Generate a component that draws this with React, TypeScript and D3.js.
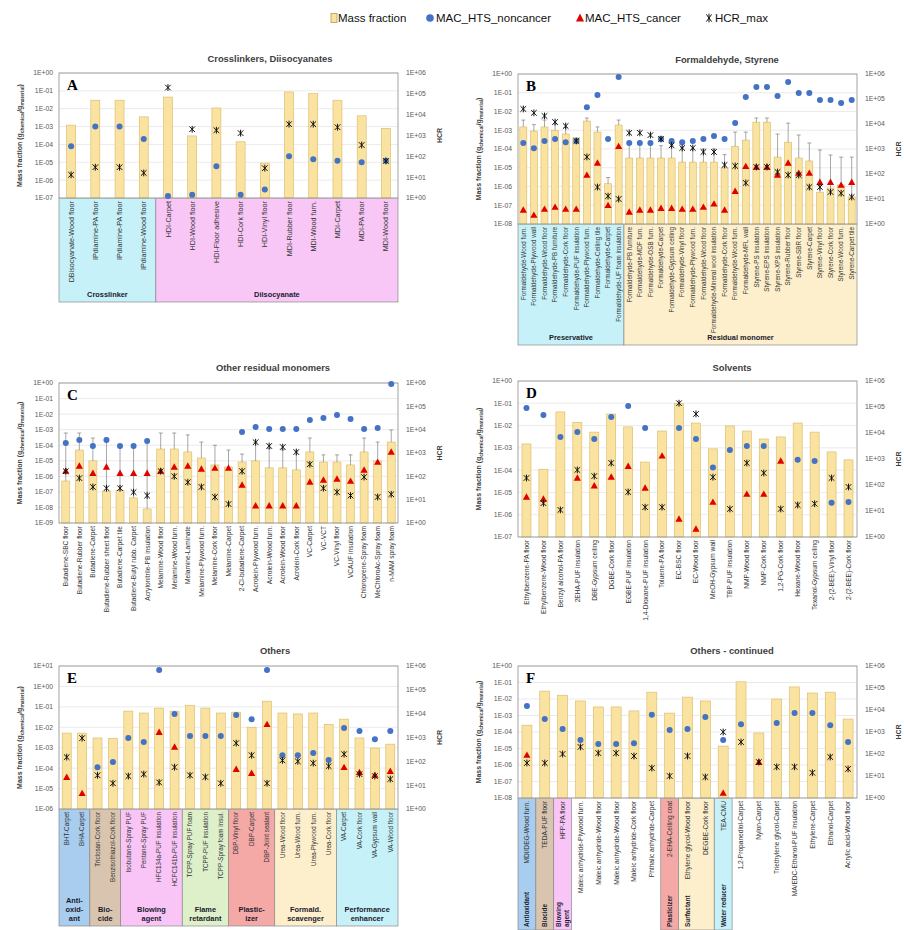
import React from "react";
import * as d3 from "d3";

const LEGEND = ["Mass fraction", "MAC_HTS_noncancer", "MAC_HTS_cancer", "HCR_max"];
const RIGHT_TICKS = ["1E+00", "1E+01", "1E+02", "1E+03", "1E+04", "1E+05", "1E+06"];

// ---------- Panel A ----------
const A_title = "Crosslinkers, Diisocyanates";
const A_labels = ["DBisocyanate-Wood floor", "IPdiamine-PA floor", "IPdiamine-PA floor", "IPdiamine-Wood floor", "HDI-Carpet", "HDI-Wood floor", "HDI-Floor adhesive", "HDI-Cork floor", "HDI-Vinyl floor", "MDI-Rubber floor", "MDI-Wood furn.", "MDI-Carpet", "MDI-PA floor", "MDI-Wood floor"];
const A_mass = [1.2e-3, 3e-2, 3e-2, 3.5e-3, 4.5e-2, 3e-4, 1.1e-2, 1.4e-4, 9e-6, 8.7e-2, 7e-2, 3e-2, 4e-3, 8e-4];
const A_err = [null, null, null, null, null, null, null, null, null, null, null, null, null, null];
const A_nonc = [8e-5, 1e-3, 1e-3, 2e-4, 1.3e-7, 1.5e-7, 6e-6, 1.5e-7, 3e-7, 2.2e-5, 1.5e-5, 1.2e-5, 1e-5, 1.2e-5];
const A_canc = [null, null, null, null, null, null, null, null, null, null, null, null, null, null];
const A_hcr = [13, 30, 30, 16, 2e5, 2000, 1800, 1300, 27, 3500, 3500, 2500, 350, 60];
const A_leftTicks = ["1E+00", "1E-01", "1E-02", "1E-03", "1E-04", "1E-05", "1E-06", "1E-07"];
const A_groups = [{ name: ["Crosslinker"], n: 4, kind: "cyan" }, { name: ["Diisocyanate"], n: 10, kind: "magenta" }];

// ---------- Panel B ----------
const B_title = "Formaldehyde, Styrene";
const B_labels = ["Formaldehyde-Wood furn.", "Formaldehyde-Plywood wall", "Formaldehyde-Wood floor", "Formaldehyde-PB furniture", "Formaldehyde-Cork floor", "Formaldehyde-PUF insulation", "Formaldehyde-Plywood furn.", "Formaldehyde-Ceiling tile", "Formaldehyde-Carpet", "Formaldehyde-UF foam insulation",
  "Formaldehyde-PB furniture", "Formaldehyde-MDF furn.", "Formaldehyde-OSB furn.", "Formaldehyde-Carpet", "Formaldehyde-Gypsum ceiling", "Formaldehyde-Vinyl floor", "Formaldehyde-Plywood furn.", "Formaldehyde-Wood floor", "Formaldehyde-Mineral wool insulation", "Formaldehyde-Cork floor", "Formaldehyde-Wood furn.", "Formaldehyde-MFL wall",
  "Styrene-PS insulation", "Styrene-EPS insulation", "Styrene-XPS insulation", "Styrene-Rubber floor", "Styrene-SBR floor", "Styrene-Carpet", "Styrene-Vinyl floor", "Styrene-Cork floor", "Styrene-Wood furn.", "Styrene-Carpet tile"];
const B_mass = [1.5e-3, 9e-4, 1.5e-3, 1e-3, 6.3e-4, 3.9e-4, 3.1e-3, 8e-4, 1.4e-6, 1.9e-3, 3.3e-5, 3.3e-5, 3.3e-5, 3.3e-5, 3.3e-5, 2e-5, 2e-5, 2e-5, 2e-5, 9.8e-6, 1.4e-4, 3e-4, 2.7e-3, 2.7e-3, 3.7e-5, 2.3e-4, 3.3e-5, 2.3e-5, 5e-7, 8.3e-7, 1.2e-6, 2.8e-7];
const B_err = [3.5e-3, 2e-3, 3.5e-3, 2.2e-3, 1.4e-3, null, 4.5e-3, 1.5e-3, 3e-6, 3.5e-3, 2e-4, 2e-4, 2e-4, 1.5e-4, 1.5e-4, 1.2e-4, 1e-4, 1e-4, 1e-4, 5e-5, 8e-4, 8e-4, 4.5e-3, 4.5e-3, 6.3e-4, 2.4e-3, 5.6e-4, 2.1e-4, 8.9e-5, 4.8e-5, 3.7e-5, 3.7e-5];
const B_nonc = [2.1e-4, 1.1e-4, 2.7e-4, 3.4e-4, 2.3e-4, 2.7e-4, 1.7e-2, 7.6e-2, 3.4e-4, 0.7, 2.1e-4, 2.1e-4, 2.1e-4, 3.4e-4, 2.7e-4, 2.3e-4, 2.7e-4, 3.4e-4, 4.9e-4, 3.4e-4, 2.4e-3, 5.9e-2, 0.2, 0.2, 6.7e-2, 0.37, 9.7e-2, 9.7e-2, 4.1e-2, 4.1e-2, 2.8e-2, 4.1e-2];
const B_canc = [5.6e-8, 3e-8, 6.3e-8, 8e-8, 6.3e-8, 6.3e-8, 4.1e-6, 1.8e-5, 1e-7, 1.4e-4, 4.4e-8, 5.6e-8, 5.6e-8, 7e-8, 7e-8, 6.3e-8, 6.3e-8, 8e-8, 1.2e-7, 5.6e-8, 5.7e-7, 1.2e-5, 1.1e-5, 1.1e-5, 4.1e-6, 1.8e-5, 5.2e-6, 5.2e-6, 1.7e-6, 1.7e-6, 1.2e-6, 1.7e-6];
const B_hcr = [4e4, 2.8e4, 2.1e4, 1.2e4, 8.3e3, 2.1e3, 480, 30, 13, 10, 4.4e3, 4.4e3, 3.6e3, 2.5e3, 1.4e3, 1.1e3, 1.1e3, 760, 760, 230, 210, 44, 190, 190, 120, 91, 91, 30, 30, 19, 17, 12];
const B_leftTicks = ["1E+00", "1E-01", "1E-02", "1E-03", "1E-04", "1E-05", "1E-06", "1E-07", "1E-08"];
const B_groups = [{ name: ["Preservative"], n: 10, kind: "cyan" }, { name: ["Residual monomer"], n: 22, kind: "peach" }];

// ---------- Panel C ----------
const C_title = "Other residual monomers";
const C_labels = ["Butadiene-SBC floor", "Butadiene-Rubber floor", "Butadiene-Carpet", "Butadiene-Rubber sheet floor", "Butadiene-Carpet tile", "Butadiene-Butyl rubb. Carpet", "Acrylonitrile-PB insulation", "Melamine-Wood floor", "Melamine-Wood furn.", "Melamine-Laminate", "Melamine-Plywood furn.", "Melamine-Cork floor", "Melamine-Carpet", "2-Cl-butadiene-Carpet", "Acrolein-Plywood furn.", "Acrolein-Wood furn.", "Acrolein-Wood floor", "Acrolein-Cork floor", "VC-Carpet", "VC-VCT", "VC-Vinyl floor", "VCAUF insulation", "Chloroprene-Spray foam", "MeChloroAc-Spray foam", "n-MAM spray foam"];
const C_mass = [5e-7, 4.9e-5, 9.8e-6, 1.1e-7, 1.3e-7, 4.1e-8, 8e-9, 5.7e-5, 5.7e-5, 3.7e-5, 1.5e-5, 5.4e-6, 4e-6, 8.3e-6, 9.8e-6, 3.5e-6, 3.5e-6, 2.6e-6, 3.7e-5, 8.3e-6, 8.3e-6, 5.4e-6, 3.7e-5, 9.8e-6, 1.6e-4];
const C_err = [6.1e-4, 6.1e-4, 2.9e-4, 2.9e-4, 1e-4, 8e-5, 2e-4, 6.1e-4, 6.1e-4, 4.6e-4, 1.6e-4, 1e-4, 4.9e-5, 2.7e-5, 1.5e-4, 6e-5, 5e-5, 4e-5, 2.9e-4, 2.4e-5, 2.4e-5, 2.4e-5, 2.9e-4, 1.6e-4, 9.5e-4];
const C_nonc = [1.4e-4, 2.2e-4, 8.9e-5, 2.2e-4, 8.9e-5, 8.9e-5, 1.9e-4, null, null, null, null, null, null, 7.1e-4, 1.5e-3, 1.1e-3, 1.1e-3, 1.1e-3, 4.2e-3, 5.6e-3, 8.8e-3, 4.9e-3, 1.1e-3, 1.3e-3, 0.87];
const C_canc = [2.2e-6, 4.7e-6, 1.6e-6, 4e-6, 1.6e-6, 1.6e-6, 1.6e-6, 2.2e-6, 4e-6, 4.7e-6, 3e-6, 3.4e-6, 3.4e-6, 2.8e-7, 1.3e-8, 1.3e-8, 1.3e-8, 1.3e-8, 4.4e-7, 5.9e-7, 6.9e-7, 5e-7, 2.6e-6, 8.3e-6, 3.7e-5];
const C_hcr = [166, 84, 35, 31, 31, 21, 15, 166, 100, 56, 35, 13, 6.5, 166, 2900, 2000, 1800, 1100, 330, 31, 21, 15, 93, 13, 17];
const C_leftTicks = ["1E+00", "1E-01", "1E-02", "1E-03", "1E-04", "1E-05", "1E-06", "1E-07", "1E-08", "1E-09"];
const C_groups = [];

// ---------- Panel D ----------
const D_title = "Solvents";
const D_labels = ["Ethylbenzene-PA floor", "Ethylbenzene-Wood floor", "Benzyl alcohol-PA floor", "2EHA-PUF insulation", "DBE-Gypsum ceiling", "DGBE-Cork floor", "EGBE-PUF insulation", "1,4-Dioxane-PUF insulation", "Toluene-PA floor", "EC-BSC floor", "EC-Wood floor", "MeOH-Gypsum wall", "TBP-PUF insulation", "NMP-Wood floor", "NMP-Cork floor", "1,2-PG-Cork floor", "Hexane-Wood floor", "Texanol-Gypsum ceiling", "2-(2-BEE)-Vinyl floor", "2-(2-BEE)-Cork floor"];
const D_mass = [1.5e-3, 1.1e-4, 4.1e-2, 1.4e-2, 5.1e-3, 3.3e-2, 8.7e-3, 2.3e-4, 5.7e-3, 0.1, 1.3e-2, 9e-4, 9.6e-3, 5.7e-3, 2.5e-3, 3.1e-3, 1.3e-2, 5.1e-3, 6.6e-4, 2.9e-4];
const D_err = [null, null, null, null, null, null, null, null, null, null, null, null, null, null, null, null, null, null, null, null];
const D_nonc = [6.2e-2, 3e-2, 3.1e-3, 5.1e-3, 2.5e-3, 2.4e-2, 7.6e-2, 7.8e-3, null, 7.8e-3, 2.5e-3, 1.3e-4, 8.1e-4, 1.2e-3, 1.2e-3, null, 2.9e-4, 2.6e-4, 3.4e-6, 3.7e-6];
const D_canc = [6.3e-6, 5.1e-6, null, 4.5e-5, 2e-5, 5e-5, 1.5e-4, 1.6e-5, 4.4e-4, 6.5e-7, 2.3e-7, 3.7e-6, null, 8.5e-6, 8.5e-6, 2.6e-4, null, null, null, null];
const D_hcr = [186, 20, 11, 380, 220, 700, 54, 14, 14, 1.4e5, 5.4e4, 200, 12, 700, 290, 12, 17, 19, 186, 84];
const D_leftTicks = ["1E+00", "1E-01", "1E-02", "1E-03", "1E-04", "1E-05", "1E-06", "1E-07"];
const D_groups = [];

// ---------- Panel E ----------
const E_title = "Others";
const E_labels = ["BHT-Carpet", "BHA-Carpet", "Triclosan-Cork floor", "Benzisothiazol-Cork floor", "Isobutane-Spray PUF", "Pentane-Spray PUF", "HFC134a-PUF insulation", "HCFC141b-PUF insulation", "TCPP-Spray PUF foam", "TCPP-PUF insulation", "TCPP-Spray foam insul.", "DBP-Vinyl floor", "DBP-Carpet", "DBP-Joint sealant", "Urea-Wood floor", "Urea-Wood furn.", "Urea-Plywood furn.", "Urea-Cork floor", "VA-Carpet", "VA-Cork floor", "VA-Gypsum wall", "VA-Wood floor"];
const E_mass = [5.2e-3, 5.2e-3, 3e-3, 2.9e-3, 6.2e-2, 5e-2, 8.7e-2, 6.2e-2, 0.12, 8.7e-2, 5e-2, 5.5e-2, 1e-2, 0.19, 5e-2, 4.5e-2, 5e-2, 1.4e-2, 2.5e-2, 3e-3, 9.6e-4, 1.5e-3];
const E_err = [null, null, null, null, null, null, null, null, null, null, null, null, null, null, null, null, null, null, null, null, null, null];
const E_nonc = [null, null, 1.1e-4, 2e-4, 3e-3, 1.9e-3, 6.4, 4.5e-2, 3.7e-3, 3.7e-3, 3.7e-3, 4e-2, 2.5e-2, 6.4, 4.3e-4, 4.3e-4, 5.5e-4, 2.5e-4, 9.1e-3, 6.5e-3, 2.6e-3, 6.5e-3];
const E_canc = [3.6e-5, 5.9e-6, null, null, null, null, 5.8e-3, 1.1e-3, null, null, null, 9e-5, 5.7e-5, 1.4e-2, null, null, null, null, 1.1e-4, 6.3e-5, 4.6e-5, 7.1e-5];
const E_hcr = [150, 940, 26, 12, 24, 29, 13, 57, 26, 22, 12, 580, 180, 12, 110, 100, 84, 63, 200, 29, 24, 18];
const E_leftTicks = ["1E+01", "1E+00", "1E-01", "1E-02", "1E-03", "1E-04", "1E-05", "1E-06"];
const E_groups = [
  { name: ["Anti-", "oxid-", "ant"], n: 2, kind: "blue" },
  { name: ["Bio-", "cide"], n: 2, kind: "tan" },
  { name: ["Blowing", "agent"], n: 4, kind: "pink" },
  { name: ["Flame", "retardant"], n: 3, kind: "green" },
  { name: ["Plastic-", "izer"], n: 3, kind: "red" },
  { name: ["Formald.", "scavenger"], n: 4, kind: "peach" },
  { name: ["Performance", "enhancer"], n: 4, kind: "cyan" },
];

// ---------- Panel F ----------
const F_title = "Others - continued";
const F_labels = ["MDI/DEG-Wood furn.", "TEDA-PUF floor", "HFP-PA floor", "Maleic anhydride-Plywood furn.", "Maleic anhydride-Wood floor", "Maleic anhydride-Wood floor", "Maleic anhydride-Cork floor", "Phthalic anhydride-Carpet", "2-EHA-Ceiling coat", "Ethylene glycol-Wood floor", "DEGBE-Cork floor", "TEA-CMU", "1,2-Propanediol-Carpet", "Nylon-Carpet", "Triethylene glycol-Carpet", "MA/EDC-Ethanol-PUF insulation", "Ethylene-Carpet", "Ethanol-Carpet", "Acrylic acid-Wood floor"];
const F_mass = [2.6e-4, 3e-2, 1.7e-2, 7.6e-3, 3.3e-3, 3.3e-3, 1.9e-3, 2.6e-2, 1.4e-3, 1.3e-2, 7.6e-3, 1.4e-5, 0.11, 8.7e-5, 1e-2, 5.4e-2, 2.3e-2, 2.6e-2, 6.1e-4];
const F_err = [null, null, null, null, null, null, null, null, null, null, null, null, null, null, null, null, null, null, null];
const F_nonc = [3.8e-3, 6.1e-4, 1.5e-4, 3.3e-5, 1.9e-5, 1.9e-5, 2.1e-5, 1.1e-3, 1.3e-4, 1.5e-4, 8.1e-4, 3.3e-5, 3e-4, null, 3.5e-4, 1.4e-3, 1.4e-3, 2.6e-4, 2.5e-5];
const F_canc = [4e-6, null, null, null, null, null, null, null, null, null, null, 2e-8, null, 1.5e-6, null, null, null, null, null];
const F_hcr = [39, 39, 100, 210, 110, 110, 81, 23, 10, 81, 9, 1000, 350, 43, 26, 26, 14, 73, 21];
const F_leftTicks = ["1E+00", "1E-01", "1E-02", "1E-03", "1E-04", "1E-05", "1E-06", "1E-07", "1E-08"];
const F_groups = [
  { name: ["Antioxidant"], n: 1, kind: "blue", rot: true },
  { name: ["Biocide"], n: 1, kind: "tan", rot: true },
  { name: ["Blowing", "agent"], n: 1, kind: "pink", rot: true },
  { name: [], n: 5, kind: null },
  { name: ["Plasticizer"], n: 1, kind: "red", rot: true },
  { name: ["Surfactant"], n: 2, kind: "peach", rot: true },
  { name: ["Water reducer"], n: 1, kind: "cyan", rot: true },
  { name: [], n: 7, kind: null },
];

// ---------- styles / layout ----------
const KIND_COLORS = {
  cyan: "#C6F1F8", magenta: "#F8C7F5", peach: "#FDEFCB", blue: "#A8CDEE", tan: "#D9C5AF",
  pink: "#F8C5F6", green: "#DDF0CA", red: "#F4A9A6",
};
const BAR_FILL = "#FAE3A1";
const BAR_STROKE = "#D8B862";
const BLUE = "#4472C4";
const RED = "#E00000";
const FONT = "'Liberation Sans', Arial, sans-serif";

const PANELS = [
  { d: { title: A_title, letter: "A", labels: A_labels, mass: A_mass, err: A_err, nonc: A_nonc, canc: A_canc, hcr: A_hcr, leftTicks: A_leftTicks, groups: A_groups },
    L: { x0: 59, x1: 398, y0: 73, y1: 198, labBottom: 302, titleX: 270, titleY: 62, barW: 9, lf: 7.2 } },
  { d: { title: B_title, letter: "B", labels: B_labels, mass: B_mass, err: B_err, nonc: B_nonc, canc: B_canc, hcr: B_hcr, leftTicks: B_leftTicks, groups: B_groups },
    L: { x0: 518, x1: 857, y0: 74, y1: 224, labBottom: 345, titleX: 727, titleY: 63, barW: 7, lf: 6.3 } },
  { d: { title: C_title, letter: "C", labels: C_labels, mass: C_mass, err: C_err, nonc: C_nonc, canc: C_canc, hcr: C_hcr, leftTicks: C_leftTicks, groups: C_groups },
    L: { x0: 59, x1: 398, y0: 383, y1: 523, labBottom: 610, titleX: 273, titleY: 371, barW: 8, lf: 6.6 } },
  { d: { title: D_title, letter: "D", labels: D_labels, mass: D_mass, err: D_err, nonc: D_nonc, canc: D_canc, hcr: D_hcr, leftTicks: D_leftTicks, groups: D_groups },
    L: { x0: 518, x1: 857, y0: 381, y1: 537, labBottom: 615, titleX: 732, titleY: 371, barW: 9, lf: 6.6 } },
  { d: { title: E_title, letter: "E", labels: E_labels, mass: E_mass, err: E_err, nonc: E_nonc, canc: E_canc, hcr: E_hcr, leftTicks: E_leftTicks, groups: E_groups },
    L: { x0: 59, x1: 398, y0: 666, y1: 809, labBottom: 926, titleX: 275, titleY: 654, barW: 9, lf: 6.3 } },
  { d: { title: F_title, letter: "F", labels: F_labels, mass: F_mass, err: F_err, nonc: F_nonc, canc: F_canc, hcr: F_hcr, leftTicks: F_leftTicks, groups: F_groups },
    L: { x0: 518, x1: 857, y0: 666, y1: 798, labBottom: 930, titleX: 732, titleY: 654, barW: 10, lf: 6.6 } },
];

const STAR = "M-2.8,-2.8L2.8,2.8M-2.8,2.8L2.8,-2.8M0,-3.4L0,3.4";
const TRI = "M0,-3.6L3.6,2.8L-3.6,2.8Z";

function Panel({ d, L }) {
  const n = d.labels.length;
  const x = d3.scaleBand().domain(d3.range(n)).range([L.x0, L.x1]);
  const bw = x.bandwidth();
  const cx = (i) => x(i) + bw / 2;
  const lt = d.leftTicks.map((s) => parseFloat(s));
  const yl = d3.scaleLog().domain([d3.min(lt), d3.max(lt)]).range([L.y1, L.y0]);
  const yr = d3.scaleLog().domain([1, 1e6]).range([L.y1, L.y0]);
  const mid = (L.y0 + L.y1) / 2;

  let start = 0;
  const groupEls = d.groups.map((g, gi) => {
    const s = start;
    start += g.n;
    const gx0 = x(s);
    const gx1 = x(s + g.n - 1) + bw;
    const fill = g.kind ? KIND_COLORS[g.kind] : null;
    const els = [];
    if (fill) {
      els.push(<rect key="r" x={gx0} y={L.y1} width={gx1 - gx0} height={L.labBottom - L.y1} fill={fill} stroke="#8a8a8a" strokeWidth={0.7} />);
    }
    if (g.rot) {
      const k = g.name.length;
      g.name.forEach((line, li) => {
        const tx = cx(s) + 2.4 + (li - (k - 1) / 2) * 8;
        const ty = L.labBottom - 3;
        els.push(<text key={"t" + li} x={tx} y={ty} transform={`rotate(-90,${tx},${ty})`} fontSize={6.4} fontWeight="bold" fill="#1a1a2e" fontFamily={FONT}>{line}</text>);
      });
    } else {
      const k = g.name.length;
      g.name.forEach((line, li) => {
        els.push(<text key={"t" + li} x={(gx0 + gx1) / 2} y={L.labBottom - 5 - (k - 1 - li) * 9} textAnchor="middle" fontSize={7.4} fontWeight="bold" fill="#1a1a2e" fontFamily={FONT}>{line}</text>);
      });
    }
    return <g key={gi}>{els}</g>;
  });

  return (
    <g>
      {groupEls}
      <text x={L.titleX} y={L.titleY} textAnchor="middle" fontSize={9.4} fontWeight="bold" fill="#404040" fontFamily={FONT}>{d.title}</text>
      <rect x={L.x0} y={L.y0} width={L.x1 - L.x0} height={L.y1 - L.y0} fill="#fff" />
      {lt.map((v, i) => (
        <line key={"g" + i} x1={L.x0} x2={L.x1} y1={yl(v)} y2={yl(v)} stroke="#E3E3E3" strokeWidth={0.7} />
      ))}
      {d.leftTicks.map((s, i) => (
        <text key={"lt" + i} x={L.x0 - 6} y={yl(lt[i]) + 2.4} textAnchor="end" fontSize={6.8} fill="#595959" fontFamily={FONT}>{s}</text>
      ))}
      {RIGHT_TICKS.map((s, i) => (
        <text key={"rt" + i} x={L.x1 + 8} y={yr(parseFloat(s)) + 2.4} fontSize={6.8} fill="#595959" fontFamily={FONT}>{s}</text>
      ))}
      <text transform={`translate(${L.x0 - 37},${mid}) rotate(-90)`} textAnchor="middle" fontSize={7} fontWeight="bold" fill="#404040" fontFamily={FONT}>
        Mass fraction (g<tspan fontSize={5} dy={1.5}>chemical</tspan><tspan dy={-1.5}>/g</tspan><tspan fontSize={5} dy={1.5}>material</tspan><tspan dy={-1.5}>)</tspan>
      </text>
      <text transform={`translate(${L.x1 + 44},${mid}) rotate(-90)`} textAnchor="middle" fontSize={7} fontWeight="bold" fill="#404040" fontFamily={FONT}>HCR</text>
      {d.mass.map((v, i) => (
        <rect key={"b" + i} x={cx(i) - L.barW / 2} y={yl(v)} width={L.barW} height={L.y1 - yl(v)} fill={BAR_FILL} stroke={BAR_STROKE} strokeWidth={0.6} />
      ))}
      {d.err.map((v, i) => v == null ? null : (
        <g key={"e" + i} stroke="#6b6b6b" strokeWidth={0.6}>
          <line x1={cx(i)} x2={cx(i)} y1={yl(d.mass[i])} y2={yl(v)} />
          <line x1={cx(i) - 2} x2={cx(i) + 2} y1={yl(v)} y2={yl(v)} />
        </g>
      ))}
      <rect x={L.x0} y={L.y0} width={L.x1 - L.x0} height={L.y1 - L.y0} fill="none" stroke="#8c8c8c" strokeWidth={0.8} />
      {d.nonc.map((v, i) => v == null ? null : (
        <circle key={"n" + i} cx={cx(i)} cy={yl(v)} r={3} fill={BLUE} />
      ))}
      {d.canc.map((v, i) => v == null ? null : (
        <path key={"c" + i} d={TRI} transform={`translate(${cx(i)},${yl(v)})`} fill={RED} />
      ))}
      {d.hcr.map((v, i) => v == null ? null : (
        <path key={"h" + i} d={STAR} transform={`translate(${cx(i)},${yr(v)})`} stroke="#111" strokeWidth={1} fill="none" />
      ))}
      <text x={L.x0 + 8} y={L.y0 + 17} fontSize={15} fontWeight="bold" fontFamily="'Liberation Serif', 'Times New Roman', serif" fill="#000">{d.letter}</text>
      {d.labels.map((s, i) => {
        const tx = cx(i) + L.lf * 0.36;
        const ty = L.y1 + 3;
        return (
          <text key={"cl" + i} x={tx} y={ty} transform={`rotate(-90,${tx},${ty})`} textAnchor="end" fontSize={L.lf} fill="#333" fontFamily={FONT}>{s}</text>
        );
      })}
    </g>
  );
}

function Legend() {
  const y = 18;
  return (
    <g fontFamily={FONT} fontSize={11.5} fill="#111">
      <rect x={331} y={y - 4.5} width={6} height={9} fill={BAR_FILL} stroke="#B89A4E" strokeWidth={0.8} />
      <text x={338} y={y + 4}>{LEGEND[0]}</text>
      <circle cx={430} cy={y} r={3.8} fill={BLUE} />
      <text x={436} y={y + 4}>{LEGEND[1]}</text>
      <path d="M0,-4.5L4,3.5L-4,3.5Z" transform={`translate(580,${y})`} fill={RED} />
      <text x={585} y={y + 4}>{LEGEND[2]}</text>
      <path d="M-2.6,-3.6L2.6,3.6M-2.6,3.6L2.6,-3.6M0,-4.4L0,4.4" transform={`translate(709,${y})`} stroke="#111" strokeWidth={1} />
      <text x={715} y={y + 4}>{LEGEND[3]}</text>
    </g>
  );
}

export default function App() {
  return (
    <svg width={904} height={930} style={{ position: "absolute", left: 0, top: 0, background: "#fff" }}>
      <rect width={904} height={930} fill="#fff" />
      <Legend />
      {PANELS.map((p, i) => (
        <Panel key={i} d={p.d} L={p.L} />
      ))}
    </svg>
  );
}
